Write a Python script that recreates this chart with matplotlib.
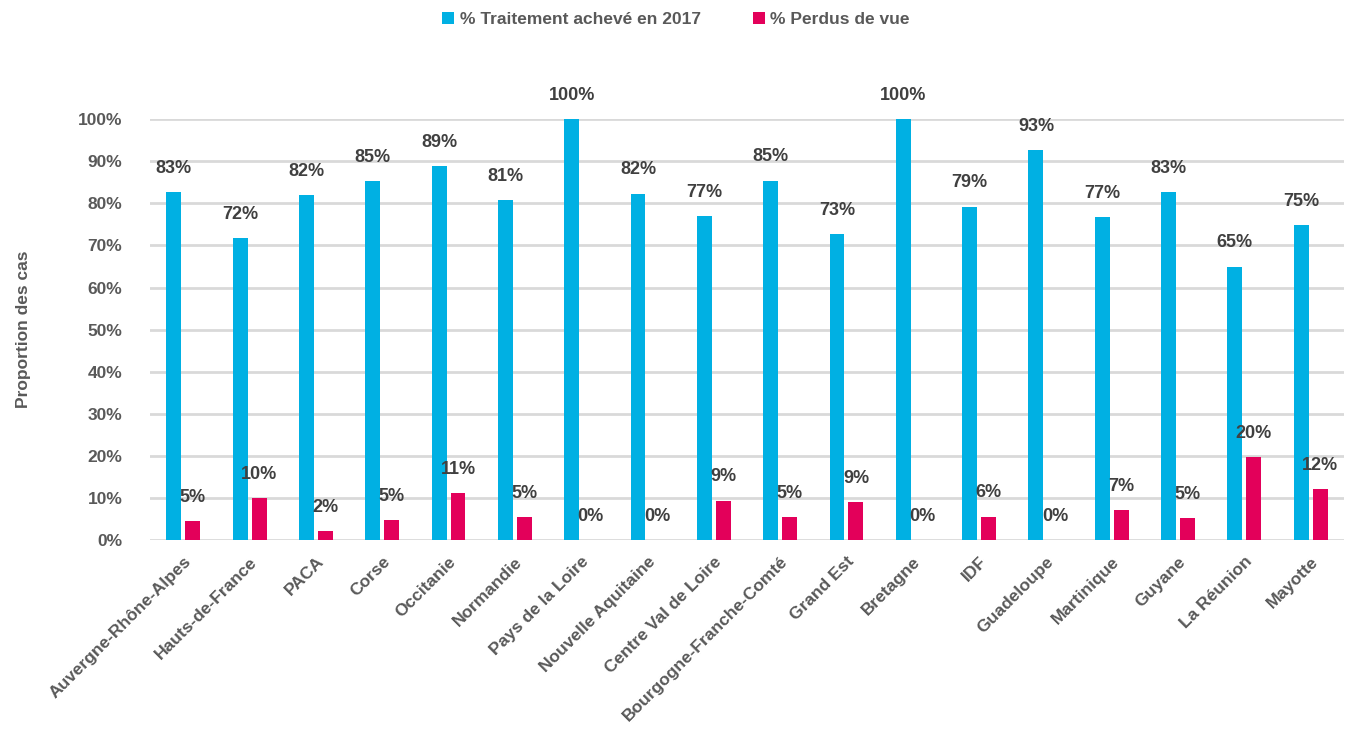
import numpy as np
import matplotlib
matplotlib.use("Agg")
import matplotlib.pyplot as plt
from matplotlib import font_manager

regions = ["Auvergne-Rhône-Alpes", "Hauts-de-France", "PACA", "Corse", "Occitanie",
           "Normandie", "Pays de la Loire", "Nouvelle Aquitaine", "Centre Val de Loire",
           "Bourgogne-Franche-Comté", "Grand Est", "Bretagne", "IDF", "Guadeloupe",
           "Martinique", "Guyane", "La Réunion", "Mayotte"]
traitement = [82.7, 71.8, 82.0, 85.2, 88.9, 80.8, 100.0, 82.3, 76.9,
              85.4, 72.7, 100.0, 79.2, 92.7, 76.8, 82.6, 65.0, 74.9]
perdus = [4.6, 10.0, 2.1, 4.7, 11.1, 5.4, 0.0, 0.0, 9.4,
          5.4, 9.1, 0.0, 5.6, 0.0, 7.1, 5.3, 19.8, 12.2]

names = {f.name for f in font_manager.fontManager.ttflist}
fam = "Liberation Sans Narrow" if "Liberation Sans Narrow" in names else "Liberation Sans"
plt.rcParams['font.family'] = [fam, 'DejaVu Sans']
plt.rcParams['font.weight'] = 'bold'

blue = "#00B0E3"
pink = "#E3005A"
txt = "#595959"
lbl = "#404040"

fig = plt.figure(figsize=(13.52, 7.31), dpi=100)
ax = fig.add_axes([0.111, 0.261, 0.883, 0.576])

x = np.arange(len(regions))
w = 0.225
b1 = ax.bar(x - 0.143, traitement, w, color=blue, label="% Traitement achevé en 2017", zorder=3)
b2 = ax.bar(x + 0.143, perdus, w, color=pink, label="% Perdus de vue", zorder=3)

for bars, vals in ((b1, traitement), (b2, perdus)):
    for r, v in zip(bars, vals):
        ax.annotate("%.0f%%" % v, (r.get_x() + r.get_width() / 2, v),
                    xytext=(0, 11), textcoords="offset points",
                    ha="center", va="bottom", fontsize=13, color=lbl,
                    fontweight="bold", annotation_clip=False)

ax.set_xlim(-0.5, len(regions) - 0.5)
ax.set_ylim(0, 100)
ax.set_yticks(np.arange(0, 101, 10))
ax.set_yticklabels(["%d%%" % t for t in range(0, 101, 10)])
ax.set_xticks(x)
ax.set_xticklabels(regions, rotation=45, ha="right", rotation_mode="anchor")
ax.tick_params(axis="both", length=0, colors=txt, labelsize=12.5)
ax.tick_params(axis="y", pad=20)
ax.tick_params(axis="x", pad=10)
for t in ax.get_xticklabels() + ax.get_yticklabels():
    t.set_fontweight("bold")

ax.grid(axis="y", color="#D9D9D9", linewidth=2, zorder=0)
for s in ax.spines.values():
    s.set_visible(False)

ax.set_ylabel("Proportion des cas", fontsize=12.5, color=txt, fontweight="bold", labelpad=34)

leg = fig.legend(loc="upper center", bbox_to_anchor=(0.5, 1.005), ncol=2, frameon=False,
                 fontsize=12.5, handlelength=0.7, handleheight=0.7, columnspacing=3.0,
                 handletextpad=0.3)
for t in leg.get_texts():
    t.set_color(txt)
    t.set_fontweight("bold")

fig.savefig("out.png", dpi=100)
